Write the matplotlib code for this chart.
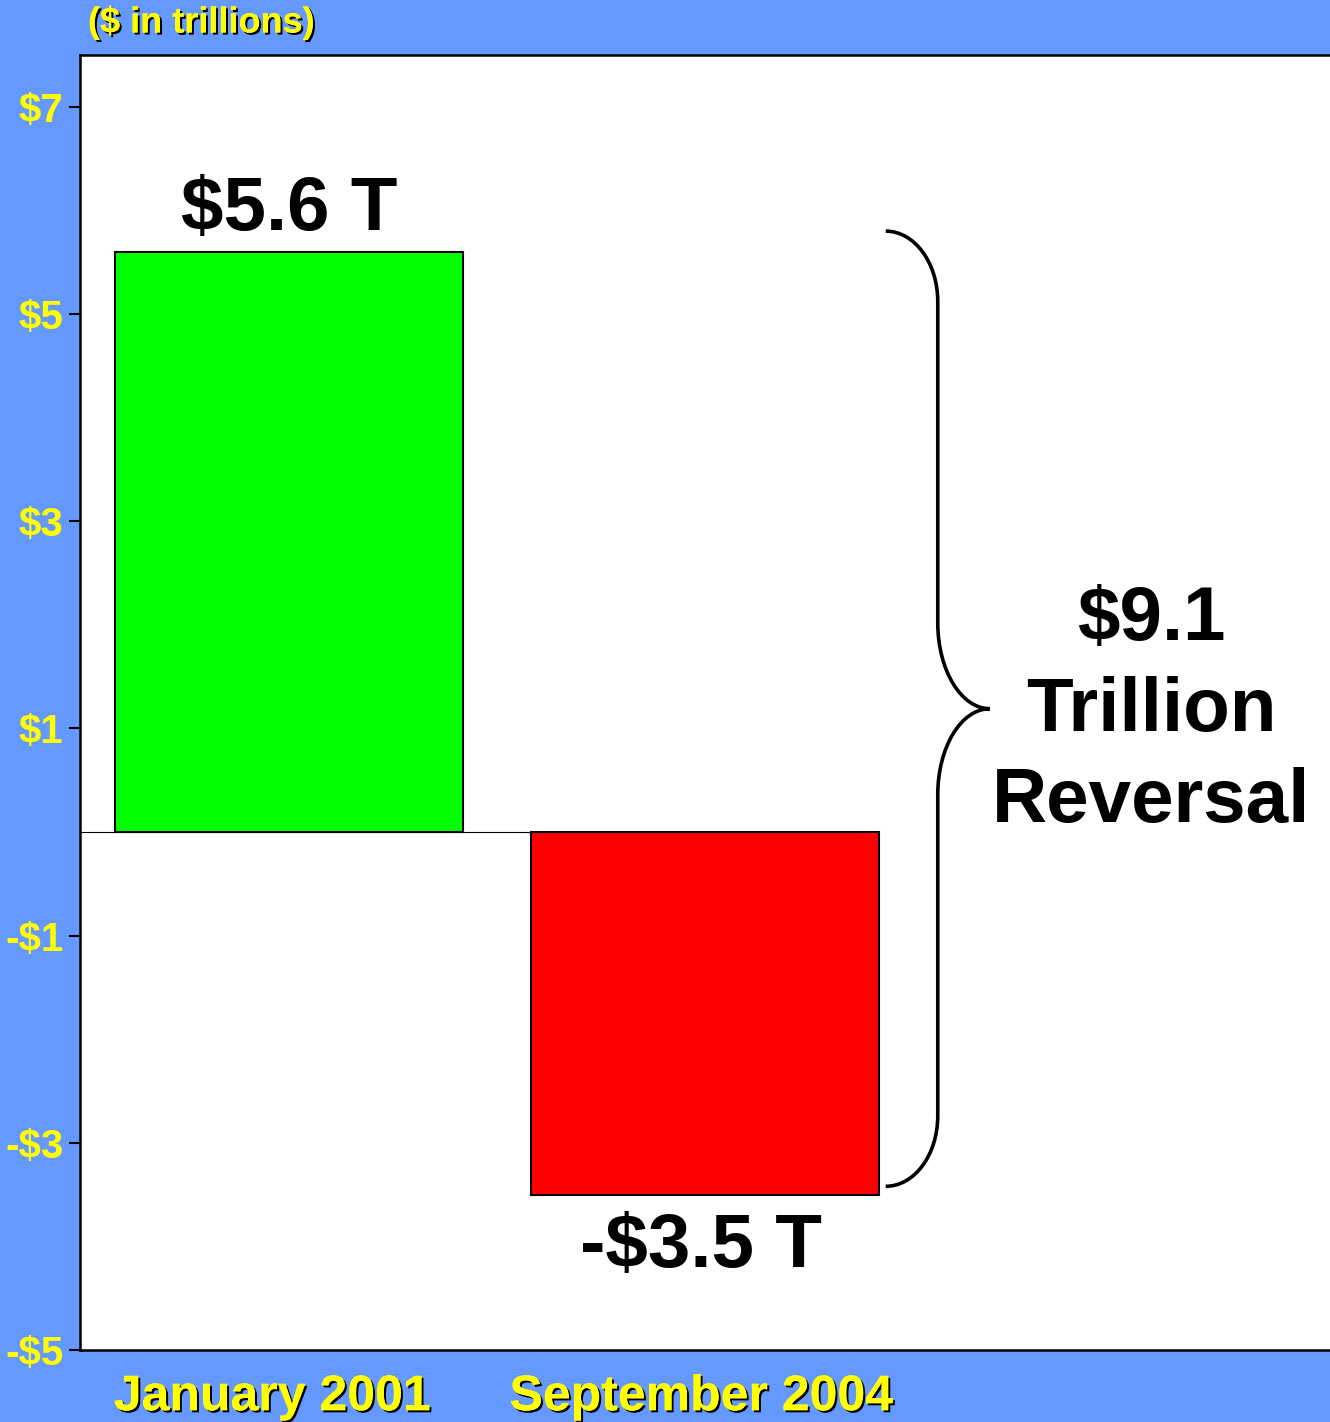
import matplotlib
matplotlib.use("Agg")
import matplotlib.pyplot as plt
import matplotlib.patheffects as pe
from matplotlib.path import Path
from matplotlib.patches import PathPatch

#%%

# Data

categories = ["January 2001", "September 2004"]
values = [5.6, -3.5]
bar_colors = ["#00FF00", "#FF0000"]
bar_labels = ["$5.6 T", "-$3.5 T"]
ytick_vals = [-5, -3, -1, 1, 3, 5, 7]
ytick_labels = ["-$5", "-$3", "-$1", "$1", "$3", "$5", "$7"]
reversal_text = "$9.1\nTrillion\nReversal"

#%%

bg = "#6699FF"
yellow = "#FFFF00"
shadow = [pe.withSimplePatchShadow(offset=(1.5, -1.5), shadow_rgbFace="black", alpha=1.0), pe.Normal()]

fig = plt.figure(figsize=(13.3, 14.22), dpi=100, facecolor=bg)
ax = fig.add_axes([80 / 1330, 1 - 1350 / 1422, 1250 / 1330, 1295 / 1422])
ax.set_facecolor("white")

x = list(range(len(categories)))
width = 0.836

## Thin zero line under the bars
ax.hlines(0, -0.502, x[-1] + width / 2, color="black", lw=0.8, zorder=1)

bars = ax.bar(x, values, width=width, color=bar_colors, edgecolor="black", linewidth=1.5, zorder=2)

## Value labels
for xi, v, lab in zip(x, values, bar_labels):
    off = 16 if v > 0 else -52
    ax.annotate(lab, (xi, v), xytext=(-3 if v < 0 else 0, off), textcoords="offset points",
                ha="center", va="baseline", fontsize=55, fontweight="bold",
                family="Liberation Sans", color="black")

## Brace from top of first bar to bottom of second
top = values[0] + 0.2
bot = values[1] + 0.08
mid = (top + bot) / 2
x0, x1, x2 = 1.433, 1.558, 1.683
r = 0.68
k = 0.552
verts = [
    (x0, top),
    (x0 + k * (x1 - x0), top), (x1, top - (1 - k) * r), (x1, top - r),
    (x1, mid + 0.83),
    (x1, mid + 0.83 - k * 0.83), (x2 - k * (x2 - x1), mid), (x2, mid),
    (x2 - k * (x2 - x1), mid), (x1, mid - 0.83 + k * 0.83), (x1, mid - 0.83),
    (x1, bot + r),
    (x1, bot + (1 - k) * r), (x0 + k * (x1 - x0), bot), (x0, bot),
]
codes = [Path.MOVETO,
         Path.CURVE4, Path.CURVE4, Path.CURVE4,
         Path.LINETO,
         Path.CURVE4, Path.CURVE4, Path.CURVE4,
         Path.CURVE4, Path.CURVE4, Path.CURVE4,
         Path.LINETO,
         Path.CURVE4, Path.CURVE4, Path.CURVE4]
ax.add_patch(PathPatch(Path(verts, codes), facecolor="none", edgecolor="black", lw=2.6, zorder=3))

ax.text(0.857, 0.493, reversal_text, transform=ax.transAxes, ha="center", va="center",
        fontsize=55, fontweight="bold", family="Liberation Sans", color="black",
        linespacing=1.36)

#%%

# Axes styling

ax.set_xlim(-0.502, 2.5)
ax.set_ylim(-5, 7.5)
ax.set_yticks(ytick_vals)
ax.set_yticklabels(ytick_labels, fontsize=29, fontweight="bold",
                   family="Liberation Sans", color=yellow)
ax.set_xticks([])

## Category labels under the bars, nudged a little left like the original slide
for xi, cat, dx in zip(x, categories, [-12, -3]):
    ax.annotate(cat, (xi, 0), xycoords=("data", "axes fraction"),
                xytext=(dx, -34), textcoords="offset points",
                ha="center", va="center", fontsize=36, fontweight="bold",
                family="Liberation Sans", color=yellow, path_effects=shadow,
                annotation_clip=False)

ax.tick_params(axis="y", length=8, width=1.5, pad=4, direction="out")
for s in ["left", "top", "bottom"]:
    ax.spines[s].set_linewidth(1.8)
ax.spines["right"].set_visible(False)

fig.text(88 / 1330, 1 - 23 / 1422, "($ in trillions)", ha="left", va="center",
         fontsize=26, fontweight="bold", family="Liberation Sans", color=yellow,
         path_effects=shadow)

fig.savefig("out.png", dpi=100, facecolor=bg)
